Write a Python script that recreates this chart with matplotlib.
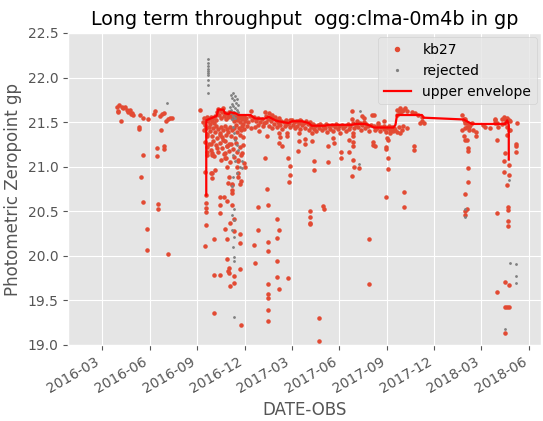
import matplotlib
matplotlib.use("Agg")
import matplotlib.pyplot as plt
import matplotlib.dates as mdates
import pandas as pd

# observation dates as days since 2016-01-01, zeropoints in mag
T0 = pd.Timestamp("2016-01-01")

spring16_day = [89, 91, 92, 93, 98, 101, 105, 108, 111, 114, 116, 119, 121, 97, 134,
                140, 148, 132, 132, 161, 163, 172, 175, 179, 184, 187, 191, 196, 173, 167,
                179, 179, 139, 167, 135, 139, 169, 169, 147, 147, 187]
spring16_zp = [21.67, 21.63, 21.61, 21.69, 21.67, 21.66, 21.67, 21.64, 21.61, 21.64, 21.59,
               21.60, 21.58, 21.51, 21.58, 21.55, 21.54, 21.45, 21.42, 21.59, 21.62, 21.57,
               21.59, 21.60, 21.51, 21.54, 21.55, 21.55, 21.41, 21.21, 21.23, 21.20, 21.13,
               21.12, 20.89, 20.60, 20.58, 20.53, 20.30, 20.07, 20.02]

fall16_day = [249, 255, 257, 259, 263, 265, 267, 268, 270, 272, 274, 276, 278, 280, 282,
              284, 286, 288, 290, 292, 293, 295, 297, 299, 301, 303, 305, 307, 311, 313,
              315, 317, 318, 320, 322, 324, 326, 328, 330, 332, 334, 336,
              257, 261, 263, 267, 268, 272, 274, 278, 280, 282, 284, 288, 290, 292, 293,
              297, 299, 301, 303, 307, 309, 311, 315, 317, 318, 320, 324, 326, 328, 330,
              332, 334,
              259, 263, 267, 270, 274, 276, 280, 284, 288, 290, 292, 295, 297, 299, 301,
              305, 307, 309, 313, 315, 318, 320, 322, 326, 328, 332, 334,
              262, 262, 262, 270, 281, 288, 294, 301, 304, 297, 297, 301, 304, 310, 310,
              323, 325, 323, 320, 323, 329, 336, 272, 278, 273, 302, 328, 311,
              261, 261, 261, 261, 261, 259, 276, 276, 276, 288, 288, 288, 288, 296, 297,
              301, 301, 301, 305, 302, 305, 306, 310, 310, 315, 315, 315, 306, 315, 325,
              326, 326, 328, 272, 273, 259, 270]
fall16_zp = [21.64, 21.50, 21.55, 21.47, 21.56, 21.51, 21.54, 21.48, 21.56, 21.51, 21.55,
             21.49, 21.57, 21.52, 21.61, 21.65, 21.58, 21.64, 21.55, 21.61, 21.66, 21.57,
             21.60, 21.54, 21.59, 21.56, 21.61, 21.58, 21.55, 21.60, 21.51, 21.59, 21.56,
             21.52, 21.58, 21.55, 21.50, 21.57, 21.54, 21.48, 21.56, 21.51,
             21.41, 21.43, 21.37, 21.45, 21.40, 21.35, 21.43, 21.39, 21.46, 21.32, 21.42,
             21.38, 21.45, 21.33, 21.41, 21.46, 21.36, 21.42, 21.39, 21.45, 21.35, 21.41,
             21.43, 21.32, 21.47, 21.39, 21.43, 21.36, 21.41, 21.46, 21.33, 21.42,
             21.28, 21.22, 21.26, 21.19, 21.29, 21.12, 21.24, 21.17, 21.27, 21.08, 21.21,
             21.14, 21.29, 21.10, 21.23, 21.18, 21.05, 21.26, 21.20, 21.11, 21.27, 21.17,
             21.08, 21.22, 21.13, 21.24, 21.04,
             21.34, 21.17, 21.13, 21.26, 21.21, 21.36, 21.30, 21.23, 21.26, 21.15, 21.10,
             21.00, 20.89, 20.81, 20.80, 20.89, 20.81, 21.06, 21.00, 20.93, 21.15, 21.00,
             20.93, 20.96, 20.87, 20.82, 20.84, 20.74,
             20.68, 20.59, 20.54, 20.49, 20.35, 20.11, 20.19, 19.78, 19.36, 20.66, 20.57,
             20.48, 19.79, 20.66, 20.30, 20.62, 20.19, 19.97, 19.86, 19.83, 19.81, 19.66,
             20.70, 20.57, 20.41, 19.77, 19.69, 20.37, 20.28, 20.25, 20.14, 19.85, 19.22,
             21.15, 21.13, 20.94, 20.93]

dec16_day = [338, 342, 346, 349, 353, 357, 361, 365, 369, 372, 340, 347, 355, 363, 370,
             361, 347, 374, 360, 361, 353, 354]
dec16_zp = [21.55, 21.50, 21.57, 21.52, 21.56, 21.51, 21.55, 21.50, 21.54, 21.49, 21.46,
            21.43, 21.45, 21.40, 21.46, 21.47, 21.63, 21.61, 20.55, 20.29, 20.12, 19.92]

y2017_day = [378, 374, 378, 380, 380, 380, 380, 380, 380, 380, 380, 401, 401, 406, 397,
             401, 397, 397, 397, 401, 416, 416, 419, 422, 422, 420, 419, 440, 440, 438,
             450, 451, 464, 464, 469, 469, 461, 461, 461, 461, 478, 478, 486, 488, 496,
             496, 505, 506, 521, 521, 535, 535, 544, 544, 544, 544, 543, 546, 541, 555,
             574, 574, 581, 581, 585, 607, 607, 611, 611, 611, 607, 615, 608,
             541, 541, 560, 565, 580, 583, 592, 602, 381, 387, 394, 438, 442, 400, 403,
             376, 376, 380, 382, 384, 386, 388, 390, 392, 396, 397, 399, 401, 403, 405,
             407, 411, 413, 415, 417, 421, 422, 422, 426, 428, 430, 432, 434, 436, 440,
             442, 444, 446, 449, 451, 453, 457, 459, 461, 463, 467, 469, 471, 473, 476,
             478, 480, 484, 486, 490, 492, 494, 498, 500, 503, 505, 509, 511, 515, 517,
             519, 523, 525, 528, 530, 534, 536, 538, 544, 546, 550, 551, 553, 557, 559,
             561, 565, 567, 569, 573, 575, 578, 584, 586, 590, 592, 596, 598, 602, 603,
             607, 609, 613, 615, 619, 621, 623]
y2017_zp = [21.34, 21.10, 20.75, 20.57, 20.16, 20.06, 19.68, 19.57, 19.53, 19.39, 19.27,
            21.38, 21.27, 21.23, 20.41, 20.29, 20.20, 19.94, 19.76, 19.63, 21.38, 21.34,
            21.10, 21.01, 20.91, 20.83, 19.75, 21.38, 21.29, 21.18, 21.31, 21.26, 21.38,
            21.29, 21.06, 20.96, 20.50, 20.44, 20.37, 20.36, 19.30, 19.04, 20.56, 20.53,
            21.23, 21.05, 21.32, 21.27, 21.16, 21.10, 21.30, 21.16, 21.34, 21.28, 21.23,
            21.08, 21.38, 21.00, 20.90, 20.99, 20.19, 19.68, 21.28, 21.24, 21.23, 21.22,
            21.20, 21.30, 21.10, 20.97, 20.66, 21.38, 21.32,
            21.63, 21.54, 21.57, 21.55, 21.58, 21.58, 21.49, 21.51, 21.60, 21.58, 21.56,
            21.51, 21.52, 21.48, 21.33,
            21.57, 21.50, 21.54, 21.46, 21.56, 21.51, 21.43, 21.55, 21.48, 21.52, 21.45,
            21.50, 21.55, 21.47, 21.51, 21.42, 21.50, 21.46, 21.52, 21.48, 21.49, 21.45,
            21.52, 21.52, 21.47, 21.50, 21.43, 21.51, 21.46, 21.49, 21.42, 21.51, 21.47,
            21.49, 21.43, 21.51, 21.48, 21.41, 21.50, 21.45, 21.48, 21.42, 21.46, 21.40,
            21.47, 21.43, 21.48, 21.41, 21.46, 21.43, 21.48, 21.39, 21.46, 21.42, 21.47,
            21.40, 21.45, 21.48, 21.42, 21.46, 21.38, 21.47, 21.43, 21.46, 21.40, 21.48,
            21.42, 21.46, 21.49, 21.43, 21.47, 21.51, 21.45, 21.49, 21.41, 21.47, 21.50,
            21.43, 21.48, 21.46, 21.40, 21.47, 21.46, 21.41, 21.43, 21.47, 21.40, 21.45,
            21.42, 21.46, 21.39, 21.43, 21.46, 21.41, 21.45, 21.40, 21.43]

fall17_day = [628, 631, 634, 637, 640, 644, 647, 657, 663, 669, 676, 676, 679, 673, 625,
              628, 634, 637, 647, 640, 631, 628, 634, 660, 660, 642, 642]
fall17_zp = [21.58, 21.62, 21.60, 21.62, 21.64, 21.66, 21.62, 21.61, 21.60, 21.58, 21.56,
             21.51, 21.49, 21.49, 21.41, 21.39, 21.38, 21.41, 21.43, 21.46, 21.45, 21.64,
             21.66, 21.23, 21.19, 20.72, 20.55]

y2018_day = [753, 756, 756, 759, 759, 759, 763, 763, 766, 766, 769, 772, 759, 753, 756,
             759, 763, 765, 765, 779, 779, 774, 765, 765, 758, 763, 759, 759,
             794, 798, 807, 817, 817, 817, 820, 823, 830, 833, 836, 839, 843, 846, 859,
             836, 839, 830, 820, 856, 856, 856, 836, 833, 843, 833, 843, 839, 841, 841,
             820, 841, 841, 836, 843, 820, 836, 839, 843, 836, 846, 843, 839]
y2018_zp = [21.58, 21.54, 21.52, 21.54, 21.51, 21.49, 21.49, 21.45, 21.45, 21.41, 21.47,
            21.49, 21.43, 21.41, 21.34, 21.30, 21.30, 21.21, 21.18, 21.39, 21.34, 21.41,
            20.98, 20.83, 20.69, 20.53, 20.50, 20.46,
            21.47, 21.44, 21.43, 21.54, 21.52, 21.49, 21.49, 21.45, 21.54, 21.56, 21.54,
            21.55, 21.52, 21.51, 21.49, 21.49, 21.45, 21.48, 21.30, 21.26, 21.23, 21.17,
            21.15, 21.06, 21.02, 20.94, 20.91, 20.80, 20.55, 20.52, 20.48, 20.39, 20.33,
            19.71, 19.67, 19.60, 19.43, 19.43, 19.43, 19.13, 21.41, 21.41, 21.36]

rej_day = [185, 264, 264, 264, 264, 264, 264, 264, 264, 264, 264,
           309, 311, 313, 315, 317, 318, 320, 311, 307, 309, 313, 315, 317, 318, 320,
           322, 313, 317, 309, 322,
           310, 313, 315, 317, 320, 323, 313, 317, 329, 326, 320, 329, 313, 310, 315,
           310, 315, 315, 315, 315, 315, 311, 313,
           556, 555, 759, 759, 843, 846, 856, 856, 856, 836]
rej_zp = [21.71, 22.21, 22.16, 22.13, 22.10, 22.07, 22.05, 22.03, 21.97, 21.92, 21.83,
          21.80, 21.77, 21.83, 21.75, 21.79, 21.72, 21.76, 21.70, 21.67, 21.64, 21.68,
          21.61, 21.66, 21.59, 21.64, 21.69, 21.57, 21.55, 21.60, 21.61,
          21.54, 21.45, 21.38, 21.30, 21.24, 21.19, 21.13, 21.06, 21.06, 21.00, 20.93,
          20.98, 20.89, 20.78, 20.53, 20.46, 20.40, 20.21, 19.99, 19.94, 19.31, 20.29,
          20.10,
          21.62, 21.03, 20.53, 20.44, 20.85, 19.92, 19.91, 19.77, 19.69, 19.18]

env_day = [261, 261, 281, 284, 294, 297, 304, 307, 317, 323, 346, 355, 374, 381, 394,
           400, 419, 426, 445, 458, 464, 490, 496, 541, 548, 567, 577, 583, 621, 625,
           628, 676, 679, 756, 772, 836, 840, 843, 843]
env_zp = [20.68, 21.52, 21.57, 21.64, 21.64, 21.60, 21.59, 21.61, 21.60, 21.58, 21.58,
          21.54, 21.54, 21.56, 21.52, 21.51, 21.49, 21.51, 21.51, 21.49, 21.46, 21.46,
          21.47, 21.47, 21.48, 21.48, 21.46, 21.44, 21.44, 21.47, 21.58, 21.58, 21.55,
          21.53, 21.48, 21.48, 21.52, 21.47, 21.08]


def _dates(days):
    return T0 + pd.to_timedelta(days, unit="D")


plt.style.use("ggplot")
fig, ax = plt.subplots(figsize=(5.43, 4.21), dpi=100)

kb_day = spring16_day + fall16_day + dec16_day + y2017_day + fall17_day + y2018_day
kb_zp = spring16_zp + fall16_zp + dec16_zp + y2017_zp + fall17_zp + y2018_zp

ax.plot(_dates(kb_day), kb_zp, ".", markersize=4.5, label="kb27")
ax.plot(_dates(rej_day), rej_zp, ".", color="grey", markersize=2, label="rejected")
ax.plot(_dates(env_day), env_zp, "-", color="red", lw=1.6, label="upper envelope")

ax.set_xlim(pd.Timestamp("2015-12-27"), pd.Timestamp("2018-06-24"))
ax.set_ylim(19, 22.5)
ax.xaxis.set_major_locator(mdates.MonthLocator(bymonth=[3, 6, 9, 12]))
ax.xaxis.set_major_formatter(mdates.DateFormatter("%Y-%m"))
for lab in ax.get_xticklabels():
    lab.set_rotation(30)
    lab.set_ha("right")

ax.set_xlabel("DATE-OBS")
ax.set_ylabel("Photometric Zeropoint gp")
ax.set_title("Long term throughput  ogg:clma-0m4b in gp", fontsize=13.8)
ax.legend(loc="upper right", markerscale=1.3, borderaxespad=0.3)

fig.subplots_adjust(left=68 / 543, right=541 / 543, bottom=1 - 345 / 421, top=1 - 33 / 421)
fig.savefig("out.png", dpi=100)
